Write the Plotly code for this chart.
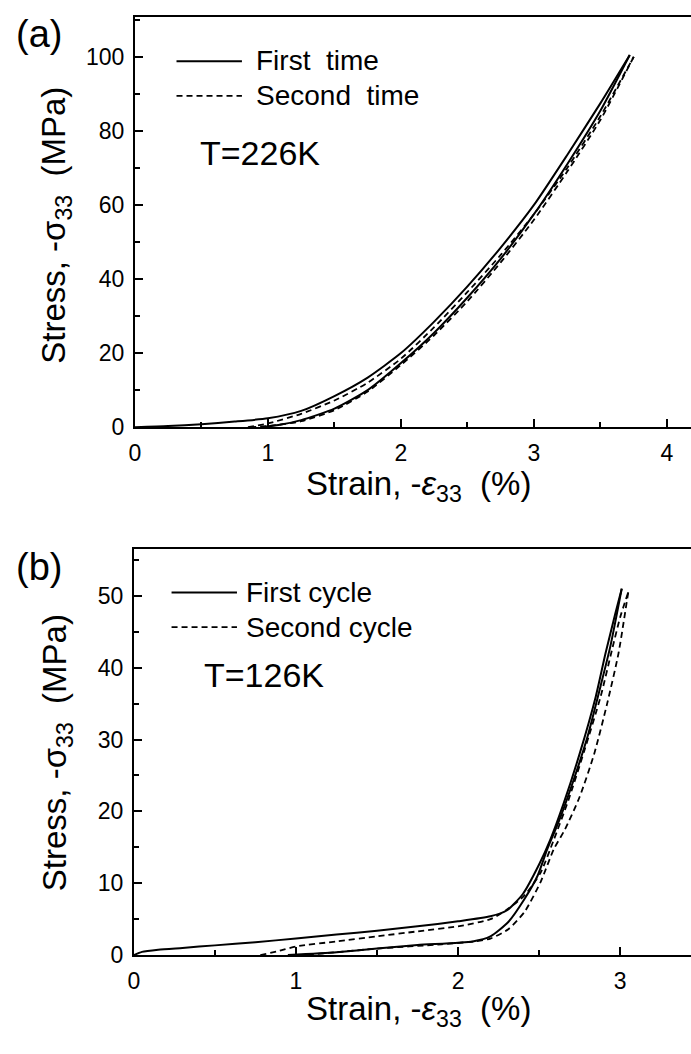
import plotly.graph_objects as go

W, H = 691, 1054

# ---- (a) T = 226 K : stress-strain loops ----
a_first_load_strain = [0, 0.25, 0.5, 0.75, 1.0, 1.25, 1.5, 1.75, 2.0, 2.25, 2.5, 2.75, 3.0, 3.25, 3.5, 3.72]
a_first_load_stress = [0, 0.3, 0.8, 1.5, 2.4, 4.4, 8.4, 13.4, 20.0, 28.5, 38.0, 48.5, 60.0, 73.5, 87.5, 100.5]
a_first_unload_strain = [3.72, 3.5, 3.25, 3.0, 2.75, 2.5, 2.25, 2.0, 1.75, 1.5, 1.25, 1.1, 0.95]
a_first_unload_stress = [100.5, 85.5, 71.0, 57.5, 45.5, 35.0, 25.5, 17.3, 10.0, 5.0, 1.9, 0.7, 0]
a_second_load_strain = [0.85, 1.0, 1.25, 1.5, 1.75, 2.0, 2.25, 2.5, 2.75, 3.0, 3.25, 3.5, 3.75]
a_second_load_stress = [0, 1.0, 3.6, 7.2, 12.0, 18.5, 27.0, 36.5, 46.5, 57.5, 70.0, 84.0, 100.0]
a_second_unload_strain = [3.75, 3.5, 3.25, 3.0, 2.75, 2.5, 2.25, 2.0, 1.75, 1.5, 1.25, 1.0, 0.85]
a_second_unload_stress = [100.0, 83.0, 69.0, 56.0, 44.5, 34.0, 24.8, 16.8, 9.6, 4.6, 1.6, 0.3, 0]

# ---- (b) T = 126 K : stress-strain loops ----
b_first_load_strain = [0, 0.05, 0.15, 0.3, 0.5, 0.75, 1.0, 1.25, 1.5, 1.75, 2.0, 2.2, 2.3, 2.4, 2.5, 2.57, 2.65, 2.75, 2.85, 2.91, 2.97, 3.01]
b_first_load_stress = [0, 0.45, 0.75, 1.0, 1.35, 1.8, 2.3, 2.85, 3.4, 4.0, 4.7, 5.4, 6.2, 8.5, 12.6, 16.1, 21.0, 28.0, 36.0, 42.0, 47.5, 51.0]
b_first_unload_strain = [3.01, 2.94, 2.88, 2.8, 2.7, 2.62, 2.55, 2.49, 2.41, 2.31, 2.2, 2.09, 1.75, 1.5, 1.25, 0.95]
b_first_unload_stress = [51.0, 43.0, 37.5, 30.5, 23.5, 18.5, 14.7, 11.0, 7.8, 4.6, 2.6, 1.9, 1.4, 0.9, 0.4, 0]
b_second_load_strain = [0.78, 0.9, 1.0, 1.25, 1.5, 1.75, 2.0, 2.2, 2.3, 2.41, 2.51, 2.59, 2.68, 2.78, 2.88, 2.95, 3.0, 3.05]
b_second_load_stress = [0, 0.6, 1.2, 1.9, 2.6, 3.3, 4.0, 5.0, 6.3, 8.3, 11.5, 16.0, 21.5, 28.5, 36.0, 42.5, 47.0, 50.5]
b_second_unload_strain = [3.05, 2.99, 2.92, 2.84, 2.75, 2.66, 2.59, 2.51, 2.41, 2.31, 2.2, 2.1, 1.9, 1.5, 1.25, 1.05]
b_second_unload_stress = [50.5, 42.0, 35.0, 28.0, 22.0, 17.5, 14.7, 10.2, 6.0, 3.6, 2.3, 1.9, 1.5, 0.9, 0.4, 0]

a_xticks = [0, 1, 2, 3, 4]
a_yticks = [0, 20, 40, 60, 80, 100]
b_xticks = [0, 1, 2, 3]
b_yticks = [0, 10, 20, 30, 40, 50]

a_legend = ["First&nbsp; time", "Second&nbsp; time"]
b_legend = ["First cycle", "Second cycle"]
a_temp = "T=226K"
b_temp = "T=126K"

FONT = "Liberation Sans, Arial, Helvetica, sans-serif"
SOLID = dict(color="black", width=2)
DASHED = dict(color="black", width=1.8, dash="6px,4px")


def px(x):
    return x / W


def py(y):
    return 1 - y / H


fig = go.Figure()

curves = [
    ("x", "y", a_first_load_strain, a_first_load_stress, SOLID),
    ("x", "y", a_first_unload_strain, a_first_unload_stress, SOLID),
    ("x", "y", a_second_load_strain, a_second_load_stress, DASHED),
    ("x", "y", a_second_unload_strain, a_second_unload_stress, DASHED),
    ("x2", "y2", b_first_load_strain, b_first_load_stress, SOLID),
    ("x2", "y2", b_first_unload_strain, b_first_unload_stress, SOLID),
    ("x2", "y2", b_second_load_strain, b_second_load_stress, DASHED),
    ("x2", "y2", b_second_unload_strain, b_second_unload_stress, DASHED),
]
for xa, ya, xs, ys, ln in curves:
    fig.add_trace(go.Scatter(x=xs, y=ys, xaxis=xa, yaxis=ya, mode="lines",
                             line=dict(shape="spline", smoothing=0.6, **ln),
                             showlegend=False, hoverinfo="skip"))

axis_common = dict(
    showline=True, linewidth=2, linecolor="black",
    ticks="inside", ticklen=8, tickwidth=2, tickcolor="black",
    showgrid=False, zeroline=False,
    tickfont=dict(family=FONT, size=23, color="black"),
    ticklabelstandoff=4,
)

fig.update_layout(
    width=W, height=H, autosize=False,
    margin=dict(l=0, r=0, t=0, b=0),
    paper_bgcolor="white", plot_bgcolor="white",
    xaxis=dict(domain=[px(130), 1], range=[0, 561 / 134.2], anchor="y",
               tickvals=a_xticks, mirror=True,
               minor=dict(dtick=0.5, ticks="inside", ticklen=5, tickwidth=2, tickcolor="black"),
               **axis_common),
    yaxis=dict(domain=[py(432.5), py(17)], range=[0, 110.8], anchor="x",
               tickvals=a_yticks,
               minor=dict(dtick=10, ticks="inside", ticklen=5, tickwidth=2, tickcolor="black"),
               **axis_common),
    xaxis2=dict(domain=[px(129), 1], range=[0, 562 / 163.5], anchor="y2",
                tickvals=b_xticks, mirror=True,
                minor=dict(dtick=0.5, ticks="inside", ticklen=5, tickwidth=2, tickcolor="black"),
                **axis_common),
    yaxis2=dict(domain=[py(967), py(556)], range=[0, 56.5], anchor="x2",
                tickvals=b_yticks,
                minor=dict(dtick=5, ticks="inside", ticklen=5, tickwidth=2, tickcolor="black"),
                **axis_common),
)

ann = []
shapes = []


def text(x, y, s, size, xanchor="left", yanchor="middle", angle=0):
    ann.append(dict(x=px(x), y=py(y), xref="paper", yref="paper", text=s,
                    showarrow=False, xanchor=xanchor, yanchor=yanchor, textangle=angle,
                    font=dict(family=FONT, size=size, color="black")))


def sample(x0, x1, y, ln):
    shapes.append(dict(type="line", xref="paper", yref="paper",
                       x0=px(x0), x1=px(x1), y0=py(y), y1=py(y), line=ln))


xtitle = "Strain, -<i>ε</i><sub>33</sub>&nbsp;&nbsp;(%)"
ytitle = "Stress, -σ<sub>33</sub>&nbsp;&nbsp;(MPa)"

# panel (a)
text(33, 34, "(a)", 38, xanchor="center")
sample(172, 238, 62, SOLID)
text(250, 61, a_legend[0], 28)
sample(172, 238, 97, DASHED)
text(250, 97, a_legend[1], 28)
text(194, 155, a_temp, 34)
text(416, 492, xtitle, 33, xanchor="center")
text(51, 228, ytitle, 33, xanchor="center", angle=-90)

# panel (b)
text(33, 574, "(b)", 38, xanchor="center")
sample(167, 233, 600, SOLID)
text(240, 600, b_legend[0], 28)
sample(167, 233, 635, DASHED)
text(240, 635, b_legend[1], 28)
text(198, 683, b_temp, 34)
text(416, 1024, xtitle, 33, xanchor="center")
text(51, 762, ytitle, 33, xanchor="center", angle=-90)

fig.update_layout(annotations=ann, shapes=shapes)

fig.write_html("out.html")
